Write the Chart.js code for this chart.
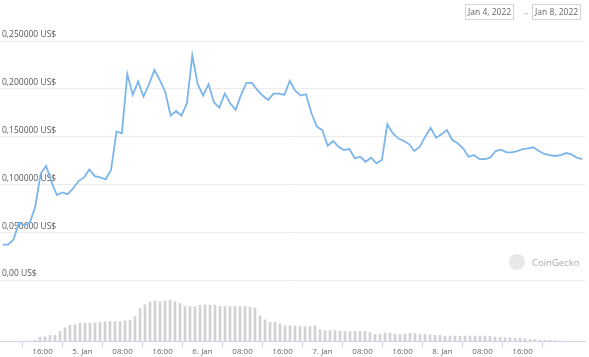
<!DOCTYPE html>
<html>
<head>
<meta charset="utf-8">
<script src="https://cdn.jsdelivr.net/npm/chart.js@4/dist/chart.umd.min.js"></script>
<style>
  body { margin: 0; background: #fff; width: 589px; height: 357px; overflow: hidden; position: relative; font-family: "Open Sans", sans-serif; }
  #price { position: absolute; left: 0; top: 0; }
  #volume { position: absolute; left: 0; top: 295px; }
  .box { position: absolute; top: 4px; height: 14px; border: 1px solid #d6d6d6; font-size: 8.5px; line-height: 14px; color: #666; padding: 0 2px; }
  #arrow { position: absolute; top: 4px; left: 521px; font-size: 8px; line-height: 15px; color: #888; }
  #logo { position: absolute; left: 509px; top: 254px; width: 16px; height: 16px; border-radius: 50%; background: #e8e8e8; }
  #brand { position: absolute; left: 532px; top: 256px; font-size: 9.5px; color: #aaa; }
</style>
</head>
<body>
<canvas id="price" width="589" height="290"></canvas>
<canvas id="volume" width="589" height="62"></canvas>
<div class="box" style="left:465px">Jan 4, 2022</div>
<div id="arrow">→</div>
<div class="box" style="left:532px">Jan 8, 2022</div>
<div id="logo"></div>
<div id="brand">CoinGecko</div>
<script>
// hourly points, hours counted from Jan 4 00:00
const firstHour = 12.5;

const prices = [
  0.0371, 0.0371, 0.0423, 0.0598, 0.0573, 0.0598, 0.0765, 0.1108, 0.1195, 0.1027,
  0.0888, 0.0916, 0.0898, 0.0958, 0.1035, 0.1073, 0.1157, 0.1087, 0.1073, 0.1052,
  0.1150, 0.1551, 0.1535, 0.2156, 0.1936, 0.2075, 0.1918, 0.2045, 0.2198, 0.2093,
  0.1970, 0.1719, 0.1768, 0.1719, 0.1849, 0.2348, 0.2048, 0.1929, 0.2048, 0.1859,
  0.1803, 0.1950, 0.1849, 0.1779, 0.1936, 0.2062, 0.2062, 0.1988, 0.1929, 0.1884,
  0.1950, 0.1950, 0.1936, 0.2083, 0.1980, 0.1929, 0.1943, 0.1744, 0.1604, 0.1569,
  0.1405, 0.1454, 0.1394, 0.1360, 0.1370, 0.1273, 0.1289, 0.1237, 0.1279, 0.1220,
  0.1255, 0.1629, 0.1535, 0.1482, 0.1457, 0.1422, 0.1349, 0.1394, 0.1499, 0.1593,
  0.1488, 0.1524, 0.1569, 0.1464, 0.1430, 0.1377, 0.1289, 0.1307, 0.1265, 0.1265,
  0.1279, 0.1349, 0.1363, 0.1335, 0.1335, 0.1349, 0.1370, 0.1377, 0.1388, 0.1349,
  0.1318, 0.1307, 0.1297, 0.1307, 0.1328, 0.1314, 0.1279, 0.1265
];

const volumes = [
  1, 1, 3, 12, 13, 16, 17, 27, 38, 45,
  47, 51, 51, 51, 51, 53, 55, 55, 55, 55,
  57, 59, 69, 91, 102, 109, 113, 111, 113, 114,
  111, 105, 97, 97, 96, 100, 102, 101, 101, 97,
  97, 97, 97, 97, 97, 95, 93, 71, 60, 53,
  53, 49, 43, 43, 43, 41, 41, 41, 43, 33,
  30, 30, 30, 29, 28, 27, 27, 27, 27, 25,
  20, 20, 23, 23, 20, 20, 21, 23, 22, 20,
  20, 18, 17, 17, 15, 15, 15, 15, 15, 15,
  15, 15, 15, 14, 12, 11, 10, 10, 9, 9,
  7, 5, 5, 4, 3, 3, 2, 1
];

const tickHours = [16, 24, 32, 40, 48, 56, 64, 72, 80, 88, 96, 104, 112];
const tickLabels = ["16:00", "5. Jan", "08:00", "16:00", "6. Jan", "08:00", "16:00", "7. Jan", "08:00", "16:00", "8. Jan", "08:00", "16:00"];

const yTicks = [0, 0.05, 0.1, 0.15, 0.2, 0.25];
const yTickLabels = ["0,00 US$", "0,050000 US$", "0,100000 US$", "0,150000 US$", "0,200000 US$", "0,250000 US$"];

const hours = prices.map((p, i) => firstHour + i);

const xRange = { min: 12, max: 120 };

new Chart(document.getElementById("price"), {
  type: "line",
  data: {
    datasets: [{
      data: prices.map((p, i) => ({ x: hours[i], y: p })),
      borderColor: "#7cb5ec",
      borderWidth: 1.8,
      pointRadius: 0,
      tension: 0
    }]
  },
  options: {
    responsive: false,
    animation: false,
    layout: { padding: { top: 41, bottom: 10, left: 0, right: 4 } },
    plugins: { legend: { display: false }, tooltip: { enabled: false } },
    scales: {
      x: { type: "linear", min: xRange.min, max: xRange.max, display: false },
      y: {
        min: 0, max: 0.25,
        afterFit: s => { s.width = 0; },
        afterBuildTicks: s => { s.ticks = yTicks.map(v => ({ value: v })); },
        grid: { color: "#ececec", drawTicks: false },
        border: { display: false },
        ticks: {
          mirror: true,
          padding: 2,
          labelOffset: -6,
          color: "#555",
          font: { family: "Open Sans", size: 8.5 },
          callback: (v, i) => yTickLabels[i]
        }
      }
    }
  }
});

new Chart(document.getElementById("volume"), {
  type: "bar",
  data: {
    datasets: [{
      data: volumes.map((v, i) => ({ x: hours[i], y: v })),
      backgroundColor: "#d2d2d6",
      barThickness: 2
    }]
  },
  options: {
    responsive: false,
    animation: false,
    layout: { padding: { top: 0, bottom: 0, left: 0, right: 4 } },
    plugins: { legend: { display: false }, tooltip: { enabled: false } },
    scales: {
      x: {
        type: "linear", min: xRange.min, max: xRange.max,
        afterBuildTicks: s => { s.ticks = tickHours.map(v => ({ value: v })); },
        grid: { drawOnChartArea: false, drawTicks: true, tickLength: 6, color: "#ccd6eb" },
        border: { display: true, color: "#ccd6eb" },
        ticks: {
          autoSkip: false,
          maxRotation: 0,
          padding: 0,
          color: "#666",
          font: { family: "Open Sans", size: 8 },
          callback: (v, i) => tickLabels[i]
        }
      },
      y: { display: false, min: 0, max: 129 }
    }
  }
});
</script>
</body>
</html>
